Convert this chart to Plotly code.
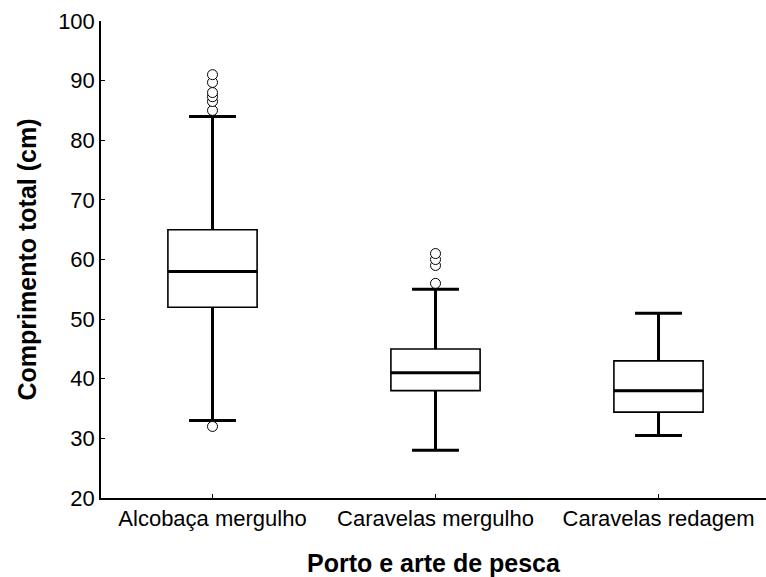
import plotly.graph_objects as go

# Length summaries (cm) per port / fishing gear
categories = ["Alcobaça mergulho", "Caravelas mergulho", "Caravelas redagem"]
q1 = [52, 38, 34.4]
median = [58, 41, 38]
q3 = [65, 45, 43]
lower_whisker = [33, 28, 30.5]
upper_whisker = [84, 55, 51]
outliers = [
    [32, 85, 86.5, 87.3, 88, 89.7, 91],
    [56, 59, 60, 61],
    [],
]

y_ticks = [20, 30, 40, 50, 60, 70, 80, 90, 100]

pos = list(range(len(categories)))
BOX_W = 0.4
CAP_HALF = 0.105
FONT = "Liberation Sans, Arial, sans-serif"

fig = go.Figure()

# Boxes (thin outline)
fig.add_trace(go.Box(
    x=pos, q1=q1, median=median, q3=q3,
    lowerfence=lower_whisker, upperfence=upper_whisker,
    width=BOX_W, whiskerwidth=0.52, boxpoints=False,
    fillcolor="white", line=dict(color="black", width=1.6),
    showlegend=False, hoverinfo="skip",
))

# Thick whiskers, caps and medians
wx, wy = [], []
for i, p in enumerate(pos):
    wx += [p, p, None, p, p, None]
    wy += [q3[i], upper_whisker[i], None, q1[i], lower_whisker[i], None]
    wx += [p - CAP_HALF, p + CAP_HALF, None, p - CAP_HALF, p + CAP_HALF, None]
    wy += [upper_whisker[i], upper_whisker[i], None, lower_whisker[i], lower_whisker[i], None]
    wx += [p - BOX_W / 2, p + BOX_W / 2, None]
    wy += [median[i], median[i], None]
fig.add_trace(go.Scatter(
    x=wx, y=wy, mode="lines",
    line=dict(color="black", width=3),
    showlegend=False, hoverinfo="skip",
))

# Outliers as open circles
ox, oy = [], []
for i, p in enumerate(pos):
    ox += [p] * len(outliers[i])
    oy += outliers[i]
fig.add_trace(go.Scatter(
    x=ox, y=oy, mode="markers",
    marker=dict(symbol="circle", size=10, color="white",
                line=dict(color="black", width=1)),
    showlegend=False, hoverinfo="skip",
))

fig.update_layout(
    width=766, height=577,
    margin=dict(l=101, r=0, t=21, b=79),
    plot_bgcolor="white", paper_bgcolor="white",
    font=dict(family=FONT, size=22, color="black"),
)
fig.update_xaxes(
    range=[-0.5, 2.482],
    tickmode="array", tickvals=pos, ticktext=categories,
    ticks="inside", ticklen=4, tickwidth=1, tickcolor="black",
    showline=True, linecolor="black", linewidth=1.5,
    showgrid=False, zeroline=False,
    tickfont=dict(size=22),
    title=dict(text="<b>Porto e arte de pesca</b>", font=dict(size=25), standoff=24),
)
fig.update_yaxes(
    range=[20, 100],
    tickmode="array", tickvals=y_ticks,
    ticks="inside", ticklen=4, tickwidth=1, tickcolor="black",
    showline=True, linecolor="black", linewidth=1.5,
    showgrid=False, zeroline=False,
    tickfont=dict(size=22),
    title=dict(text="<b>Comprimento total (cm)</b>", font=dict(size=25), standoff=14),
)

fig.write_html("out.html")
